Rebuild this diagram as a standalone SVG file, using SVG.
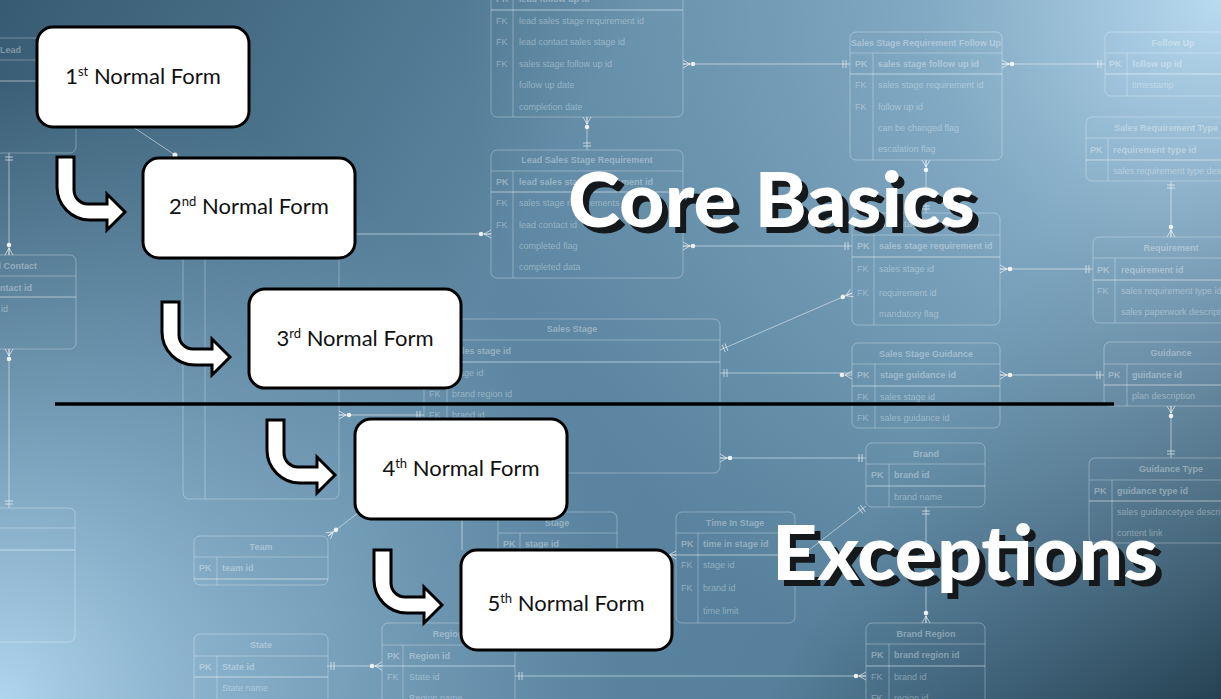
<svg xmlns="http://www.w3.org/2000/svg" xmlns:xlink="http://www.w3.org/1999/xlink" width="1221" height="699" viewBox="0 0 1221 699">
<defs>
<linearGradient id="bgBase" x1="0" y1="0" x2="1221" y2="699" gradientUnits="userSpaceOnUse">
<stop offset="0" stop-color="#375b72"/>
<stop offset="0.4" stop-color="#5d87a2"/>
<stop offset="0.72" stop-color="#56809b"/>
<stop offset="1" stop-color="#1d3848"/>
</linearGradient>
<radialGradient id="bgTR" cx="1221" cy="0" r="760" gradientUnits="userSpaceOnUse">
<stop offset="0" stop-color="#b9dbf0" stop-opacity="1"/>
<stop offset="0.4" stop-color="#a2c7e0" stop-opacity="0.55"/>
<stop offset="1" stop-color="#8fb6d1" stop-opacity="0"/>
</radialGradient>
<radialGradient id="bgBL" cx="0" cy="699" r="620" gradientUnits="userSpaceOnUse">
<stop offset="0" stop-color="#b0d5ee" stop-opacity="1"/>
<stop offset="0.45" stop-color="#9cc3de" stop-opacity="0.55"/>
<stop offset="1" stop-color="#8db5d1" stop-opacity="0"/>
</radialGradient>
<g id="crow" class="cm"><path d="M0,-4 L7,0 M0,4 L7,0 M0,0 H7"/><circle cx="10" cy="0" r="2.3" class="dot"/></g>
<g id="one" class="cm"><path d="M4,-4 V4 M7,-4 V4"/></g>
<style>
.t{fill:none;stroke:#fff;stroke-opacity:.3;stroke-width:1}
.tb{fill:none;stroke:#fff;stroke-opacity:.5;stroke-width:1.2}
.et{font-family:"Liberation Sans",Arial,sans-serif;font-size:9px;fill:#fff;fill-opacity:.36}
.eh{font-weight:bold;text-anchor:middle}
.pk{font-weight:bold}
.cl{fill:none;stroke:#fff;stroke-opacity:.5;stroke-width:1}
.cm{fill:none;stroke:#fff;stroke-opacity:.6;stroke-width:1}
.dot{fill:#fff;fill-opacity:.85;stroke:none}
.box{fill:#fff;stroke:#000;stroke-width:3}
.bt{font-family:Lato,"Noto Sans",sans-serif;font-size:22px;fill:#111;text-anchor:middle}
.sup{font-size:13px}
.arrow{fill:#fff;stroke:#000;stroke-width:3;stroke-linejoin:miter}
.ttl{font-family:Lato,Inter,"Noto Sans",sans-serif;font-weight:900;font-size:76px}
.shadow{fill:#15191c}
.white{fill:#fff}
</style>
</defs>

<g id="background">
<rect width="1221" height="699" fill="url(#bgBase)"/>
<rect width="1221" height="699" fill="url(#bgTR)"/>
<rect width="1221" height="699" fill="url(#bgBL)"/>
</g>

<g id="er-tables" class="et">
<g id="t-lead">
<rect class="t" x="-60" y="38" width="136" height="115" rx="6"/>
<path class="t" d="M-60,60 H76"/><path class="tb" d="M-60,81 H76"/>
<text class="pk" x="0" y="53">Lead</text>
</g>
<g id="t-lead-contact">
<rect class="t" x="-60" y="255" width="136" height="94" rx="6"/>
<path class="t" d="M-60,276 H76"/><path class="tb" d="M-60,297 H76"/>
<text class="pk" x="37" y="269" text-anchor="end">Lead Contact</text>
<text class="pk" x="32" y="291" text-anchor="end">lead contact id</text>
<text x="8" y="312" text-anchor="end">lead id</text>
</g>
<g id="t-left-bottom">
<rect class="t" x="-60" y="508" width="135" height="134" rx="6"/>
<path class="t" d="M-60,528 H75"/><path class="tb" d="M-60,550 H75"/>
</g>
<g id="t-tall">
<rect class="t" x="183" y="160" width="156" height="339" rx="6"/>
<path class="t" d="M205,180 V499"/>
</g>
<g id="t-lssfu">
<rect class="t" x="491" y="-40" width="192" height="157" rx="6"/>
<path class="tb" d="M491,10 H683"/><path class="t" d="M513,-10 V117"/>
<text class="pk" x="496" y="2">PK</text><text class="pk" x="519" y="2">lead follow up id</text>
<text x="496" y="24">FK</text><text x="519" y="24">lead sales stage requirement id</text>
<text x="496" y="45">FK</text><text x="519" y="45">lead contact sales stage id</text>
<text x="496" y="67">FK</text><text x="519" y="67">sales stage follow up id</text>
<text x="519" y="88">follow up date</text>
<text x="519" y="110">completion date</text>
</g>
<g id="t-lssr">
<rect class="t" x="491" y="150" width="192" height="128" rx="6"/>
<path class="t" d="M491,171 H683"/><path class="tb" d="M491,192 H683"/><path class="t" d="M513,171 V278"/>
<text class="eh" x="587" y="163">Lead Sales Stage Requirement</text>
<text class="pk" x="496" y="185">PK</text><text class="pk" x="519" y="185">lead sales stage requirement id</text>
<text x="496" y="206">FK</text><text x="519" y="206">sales stage requirements</text>
<text x="496" y="228">FK</text><text x="519" y="228">lead contact id</text>
<text x="519" y="249">completed flag</text>
<text x="519" y="270">completed data</text>
</g>
<g id="t-ssrfu">
<rect class="t" x="850" y="32" width="152" height="128" rx="6"/>
<path class="t" d="M850,53 H1002"/><path class="tb" d="M850,74 H1002"/><path class="t" d="M873,53 V160"/>
<text class="eh" x="926" y="46" textLength="150" lengthAdjust="spacingAndGlyphs">Sales Stage Requirement Follow Up</text>
<text class="pk" x="855" y="67">PK</text><text class="pk" x="878" y="67">sales stage follow up id</text>
<text x="855" y="88">FK</text><text x="878" y="88">sales stage requirement id</text>
<text x="855" y="110">FK</text><text x="878" y="110">follow up id</text>
<text x="878" y="131">can be changed flag</text>
<text x="878" y="152">escalation flag</text>
</g>
<g id="t-follow-up">
<rect class="t" x="1105" y="32" width="140" height="64" rx="6"/>
<path class="t" d="M1105,53 H1245"/><path class="tb" d="M1105,74 H1245"/><path class="t" d="M1127,53 V96"/>
<text class="eh" x="1173" y="46">Follow Up</text>
<text class="pk" x="1109" y="67">PK</text><text class="pk" x="1132" y="67">follow up id</text>
<text x="1132" y="88">timestamp</text>
</g>
<g id="t-srt">
<rect class="t" x="1086" y="117" width="160" height="64" rx="6"/>
<path class="t" d="M1086,138 H1246"/><path class="tb" d="M1086,160 H1246"/><path class="t" d="M1108,138 V181"/>
<text class="eh" x="1166" y="131">Sales Requirement Type</text>
<text class="pk" x="1090" y="153">PK</text><text class="pk" x="1113" y="153">requirement type id</text>
<text x="1113" y="174">sales requirement type description</text>
</g>
<g id="t-ssr">
<rect class="t" x="852" y="213" width="148" height="112" rx="6"/>
<path class="t" d="M852,235 H1000"/><path class="tb" d="M852,257 H1000"/><path class="t" d="M874,235 V325"/>
<text class="eh" x="926" y="227">Sales Stage Requirement</text>
<text class="pk" x="857" y="249">PK</text><text class="pk" x="879" y="249">sales stage requirement id</text>
<text x="857" y="272">FK</text><text x="879" y="272">sales stage id</text>
<text x="857" y="296">FK</text><text x="879" y="296">requirement id</text>
<text x="879" y="317">mandatory flag</text>
</g>
<g id="t-requirement">
<rect class="t" x="1093" y="237" width="140" height="86" rx="6"/>
<path class="t" d="M1093,258 H1233"/><path class="tb" d="M1093,280 H1233"/><path class="t" d="M1115,258 V323"/>
<text class="eh" x="1171" y="251">Requirement</text>
<text class="pk" x="1097" y="273">PK</text><text class="pk" x="1121" y="273">requirement id</text>
<text x="1097" y="294">FK</text><text x="1121" y="294">sales requirement type id</text>
<text x="1121" y="315">sales paperwork description</text>
</g>
<g id="t-sales-stage">
<rect class="t" x="424" y="319" width="296" height="154" rx="6"/>
<path class="t" d="M424,340 H720"/><path class="tb" d="M424,362 H720"/><path class="t" d="M447,340 V473"/>
<text class="eh" x="572" y="332">Sales Stage</text>
<text class="pk" x="429" y="354">PK</text><text class="pk" x="452" y="354">sales stage id</text>
<text x="429" y="376">FK</text><text x="452" y="376">stage id</text>
<text x="429" y="397">FK</text><text x="452" y="397">brand region id</text>
<text x="429" y="418">FK</text><text x="452" y="418">brand id</text>
</g>
<g id="t-ssg">
<rect class="t" x="852" y="343" width="148" height="85" rx="6"/>
<path class="t" d="M852,364 H1000"/><path class="tb" d="M852,386 H1000"/><path class="t" d="M875,364 V428"/>
<text class="eh" x="926" y="357">Sales Stage Guidance</text>
<text class="pk" x="857" y="378">PK</text><text class="pk" x="880" y="378">stage guidance id</text>
<text x="857" y="400">FK</text><text x="880" y="400">sales stage id</text>
<text x="857" y="421">FK</text><text x="880" y="421">sales guidance id</text>
</g>
<g id="t-guidance">
<rect class="t" x="1104" y="342" width="140" height="64" rx="6"/>
<path class="t" d="M1104,364 H1244"/><path class="tb" d="M1104,385 H1244"/><path class="t" d="M1127,364 V406"/>
<text class="eh" x="1171" y="356">Guidance</text>
<text class="pk" x="1108" y="378">PK</text><text class="pk" x="1132" y="378">guidance id</text>
<text x="1132" y="399">plan description</text>
</g>
<g id="t-guidance-type">
<rect class="t" x="1089" y="458" width="150" height="85" rx="6"/>
<path class="t" d="M1089,480 H1239"/><path class="tb" d="M1089,501 H1239"/><path class="t" d="M1112,480 V543"/>
<text class="eh" x="1171" y="472">Guidance Type</text>
<text class="pk" x="1094" y="494">PK</text><text class="pk" x="1117" y="494">guidance type id</text>
<text x="1117" y="515">sales guidancetype description</text>
<text x="1117" y="536">content link</text>
</g>
<g id="t-brand">
<rect class="t" x="866" y="443" width="119" height="64" rx="6"/>
<path class="t" d="M866,464 H985"/><path class="tb" d="M866,486 H985"/><path class="t" d="M889,464 V507"/>
<text class="eh" x="926" y="457">Brand</text>
<text class="pk" x="871" y="478">PK</text><text class="pk" x="894" y="478">brand id</text>
<text x="894" y="500">brand name</text>
</g>
<g id="t-brand-region">
<rect class="t" x="866" y="623" width="119" height="100" rx="6"/>
<path class="t" d="M866,644 H985"/><path class="tb" d="M866,666 H985"/><path class="t" d="M889,644 V723"/>
<text class="eh" x="926" y="637">Brand Region</text>
<text class="pk" x="871" y="658">PK</text><text class="pk" x="894" y="658">brand region id</text>
<text x="871" y="680">FK</text><text x="894" y="680">brand id</text>
<text x="871" y="701">FK</text><text x="894" y="701">region id</text>
</g>
<g id="t-time-in-stage">
<rect class="t" x="676" y="512" width="119" height="111" rx="6"/>
<path class="t" d="M676,533 H795"/><path class="tb" d="M676,555 H795"/><path class="t" d="M698,533 V623"/>
<text class="eh" x="735" y="526">Time In Stage</text>
<text class="pk" x="681" y="547">PK</text><text class="pk" x="703" y="547">time in stage id</text>
<text x="681" y="568">FK</text><text x="703" y="568">stage id</text>
<text x="681" y="591">FK</text><text x="703" y="591">brand id</text>
<text x="703" y="614">time limit</text>
</g>
<g id="t-stage">
<rect class="t" x="498" y="512" width="119" height="88" rx="6"/>
<path class="t" d="M498,533 H617"/><path class="tb" d="M498,555 H617"/><path class="t" d="M520,533 V600"/>
<text class="eh" x="557" y="526">Stage</text>
<text class="pk" x="503" y="547">PK</text><text class="pk" x="525" y="547">stage id</text>
</g>
<g id="t-team">
<rect class="t" x="194" y="536" width="134" height="49" rx="6"/>
<path class="t" d="M194,557 H328"/><path class="tb" d="M194,579 H328"/><path class="t" d="M217,557 V585"/>
<text class="eh" x="261" y="550">Team</text>
<text class="pk" x="199" y="571">PK</text><text class="pk" x="222" y="571">team id</text>
</g>
<g id="t-state">
<rect class="t" x="194" y="634" width="134" height="70" rx="6"/>
<path class="t" d="M194,656 H328"/><path class="tb" d="M194,677 H328"/><path class="t" d="M217,656 V704"/>
<text class="eh" x="261" y="648">State</text>
<text class="pk" x="199" y="670">PK</text><text class="pk" x="222" y="670">State id</text>
<text x="222" y="691">State name</text>
</g>
<g id="t-region">
<rect class="t" x="382" y="623" width="133" height="90" rx="6"/>
<path class="t" d="M382,645 H515"/><path class="tb" d="M382,666 H515"/><path class="t" d="M403,645 V713"/>
<text class="eh" x="448" y="637">Region</text>
<text class="pk" x="387" y="659">PK</text><text class="pk" x="409" y="659">Region id</text>
<text x="387" y="680">FK</text><text x="409" y="680">State id</text>
<text x="409" y="701">Region name</text>
</g>
</g>

<g id="er-connectors">
<path class="cl" d="M9,153 V255 M9,349 V508 M133,127 L175,155 M355,234 H491 M683,64 H850 M587,117 V150 M683,246 H852 M1002,64 H1105 M926,160 V213 M1171,181 V237 M1000,269 H1093 M720,350 L852,293 M720,373 H852 M1000,375 H1104 M1171,406 V458 M720,458 H866 M926,507 V623 M866,506 L796,560 M339,415 H424 M515,676 H866 M327,666 H382 M328,536 L358,513 M462,519 V550 M676,555 H660"/>
<circle class="dot" cx="175" cy="155" r="2.5"/>
<use xlink:href="#one" transform="translate(9,153) rotate(90)"/>
<use xlink:href="#crow" transform="translate(9,255) rotate(-90)"/>
<use xlink:href="#crow" transform="translate(9,349) rotate(90)"/>
<use xlink:href="#one" transform="translate(9,508) rotate(-90)"/>
<use xlink:href="#crow" transform="translate(491,234) rotate(180)"/>
<use xlink:href="#crow" transform="translate(683,64)"/>
<use xlink:href="#one" transform="translate(850,64) rotate(180)"/>
<use xlink:href="#crow" transform="translate(587,117) rotate(90)"/>
<use xlink:href="#one" transform="translate(587,150) rotate(-90)"/>
<use xlink:href="#crow" transform="translate(683,246)"/>
<use xlink:href="#one" transform="translate(852,246) rotate(180)"/>
<use xlink:href="#crow" transform="translate(1002,64)"/>
<use xlink:href="#one" transform="translate(1105,64) rotate(180)"/>
<use xlink:href="#crow" transform="translate(926,160) rotate(90)"/>
<use xlink:href="#one" transform="translate(926,213) rotate(-90)"/>
<use xlink:href="#one" transform="translate(1171,181) rotate(90)"/>
<use xlink:href="#crow" transform="translate(1171,237) rotate(-90)"/>
<use xlink:href="#crow" transform="translate(1000,269)"/>
<use xlink:href="#one" transform="translate(1093,269) rotate(180)"/>
<use xlink:href="#one" transform="translate(720,350) rotate(-23.4)"/>
<use xlink:href="#crow" transform="translate(852,293) rotate(156.6)"/>
<use xlink:href="#one" transform="translate(720,373)"/>
<use xlink:href="#crow" transform="translate(852,375) rotate(180)"/>
<use xlink:href="#crow" transform="translate(1000,375)"/>
<use xlink:href="#one" transform="translate(1104,375) rotate(180)"/>
<use xlink:href="#crow" transform="translate(1171,406) rotate(90)"/>
<use xlink:href="#one" transform="translate(1171,458) rotate(-90)"/>
<use xlink:href="#crow" transform="translate(720,458)"/>
<use xlink:href="#one" transform="translate(866,458) rotate(180)"/>
<use xlink:href="#one" transform="translate(926,507) rotate(90)"/>
<use xlink:href="#crow" transform="translate(926,623) rotate(-90)"/>
<use xlink:href="#one" transform="translate(866,506) rotate(142)"/>
<use xlink:href="#crow" transform="translate(339,415)"/>
<use xlink:href="#one" transform="translate(424,415) rotate(180)"/>
<use xlink:href="#one" transform="translate(515,676)"/>
<use xlink:href="#crow" transform="translate(866,676) rotate(180)"/>
<use xlink:href="#one" transform="translate(327,666)"/>
<use xlink:href="#crow" transform="translate(382,666) rotate(180)"/>
<use xlink:href="#crow" transform="translate(328,536) rotate(-37.5)"/>
<use xlink:href="#crow" transform="translate(676,555) rotate(180)"/>
</g>

<g id="divider">
<path d="M55,404 H1114" stroke="#000" stroke-width="3.5"/>
</g>

<g id="connectors">
<path class="arrow" transform="translate(57,157)" d="M0,0 H17 V33 A14,14 0 0 0 31,47 H50 V37 L68,55 L50,73 V63 H33 A33,33 0 0 1 0,30 Z"/>
<path class="arrow" transform="translate(162,302)" d="M0,0 H17 V33 A14,14 0 0 0 31,47 H50 V37 L68,55 L50,73 V63 H33 A33,33 0 0 1 0,30 Z"/>
<path class="arrow" transform="translate(267,420)" d="M0,0 H17 V33 A14,14 0 0 0 31,47 H50 V37 L68,55 L50,73 V63 H33 A33,33 0 0 1 0,30 Z"/>
<path class="arrow" transform="translate(374,550)" d="M0,0 H17 V33 A14,14 0 0 0 31,47 H50 V37 L68,55 L50,73 V63 H33 A33,33 0 0 1 0,30 Z"/>
</g>

<g id="nf1">
<rect class="box" x="37" y="27" width="212" height="100" rx="16"/>
<text class="bt" x="143" y="84">1<tspan class="sup" dy="-8">st</tspan><tspan dy="8"> Normal Form</tspan></text>
</g>
<g id="nf2">
<rect class="box" x="143" y="158" width="212" height="100" rx="16"/>
<text class="bt" x="249" y="214">2<tspan class="sup" dy="-8">nd</tspan><tspan dy="8"> Normal Form</tspan></text>
</g>
<g id="nf3">
<rect class="box" x="249" y="289" width="212" height="99" rx="16"/>
<text class="bt" x="355" y="346">3<tspan class="sup" dy="-8">rd</tspan><tspan dy="8"> Normal Form</tspan></text>
</g>
<g id="nf4">
<rect class="box" x="355" y="419" width="212" height="100" rx="16"/>
<text class="bt" x="461" y="476">4<tspan class="sup" dy="-8">th</tspan><tspan dy="8"> Normal Form</tspan></text>
</g>
<g id="nf5">
<rect class="box" x="461" y="550" width="211" height="100" rx="16"/>
<text class="bt" x="566" y="611">5<tspan class="sup" dy="-8">th</tspan><tspan dy="8"> Normal Form</tspan></text>
</g>

<g id="title-core">
<text class="ttl shadow" x="574" y="233" textLength="407" lengthAdjust="spacingAndGlyphs">Core Basics</text>
<text class="ttl white" x="568" y="227" textLength="407" lengthAdjust="spacingAndGlyphs">Core Basics</text>
</g>
<g id="title-exceptions">
<text class="ttl shadow" x="778" y="586" textLength="386" lengthAdjust="spacingAndGlyphs">Exceptions</text>
<text class="ttl white" x="772" y="580" textLength="386" lengthAdjust="spacingAndGlyphs">Exceptions</text>
</g>
</svg>
